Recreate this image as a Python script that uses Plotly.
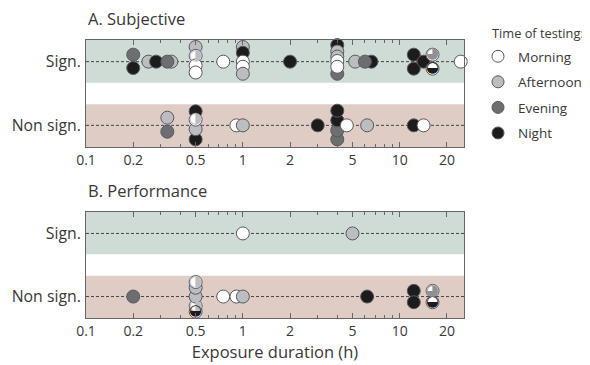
import plotly.graph_objects as go

# ---------------- data ----------------
# time-of-testing codes: W=morning, L=afternoon, D=evening, N=night,
# WL = split morning/afternoon, WN = split morning/night, Q = mixed (quartered)
# dy = vertical jitter (in row units) used to un-stack overlapping studies

a_sig_x    = [0.2, 0.2, 0.25, 0.35, 0.28, 0.33, 0.5, 0.5, 0.5, 0.5, 0.75, 1, 1, 1, 1, 1, 2,
              4, 4, 4, 4, 4, 4, 5.2, 6.6, 6.0, 12.3, 12.3, 14.2, 16.2, 16.2, 24.5]
a_sig_code = ["D", "N", "L", "L", "N", "D", "L", "WL", "W", "W", "W", "L", "N", "W", "W", "L", "N",
              "D", "N", "L", "L", "W", "W", "L", "N", "D", "N", "N", "N", "Q", "WN", "W"]
a_sig_dy   = [0.11, -0.10, 0, 0, 0, 0, 0.23, 0.09, -0.06, -0.17, 0, 0.23, 0.14, 0, -0.08, -0.19, 0,
              -0.19, 0.26, 0.16, 0.08, 0.01, -0.08, 0, 0, 0, 0.11, -0.11, 0, 0.11, -0.11, 0]

a_non_x    = [0.33, 0.33, 0.5, 0.5, 0.5, 0.5, 0.91, 1, 3, 4, 4, 4, 4, 4.6, 6.2, 12.3, 14.2]
a_non_code = ["L", "D", "N", "N", "L", "WL", "W", "L", "N", "D", "D", "N", "N", "W", "L", "N", "W"]
a_non_dy   = [0.12, -0.10, -0.22, 0.22, -0.06, 0.09, 0, 0, 0, -0.22, -0.08, 0.08, 0.23, 0, 0, 0, 0]

b_sig_x    = [1, 5]
b_sig_code = ["W", "L"]
b_sig_dy   = [0, 0]

b_non_x    = [0.2, 0.5, 0.5, 0.5, 0.5, 0.5, 0.75, 0.91, 1, 6.2, 12.3, 12.3, 16.2, 16.2]
b_non_code = ["D", "WN", "WL", "L", "L", "WL", "W", "W", "L", "N", "N", "N", "Q", "WN"]
b_non_dy   = [0, -0.24, -0.15, 0, 0.14, 0.23, 0, 0, 0, 0, 0.09, -0.09, 0.09, -0.09]

row_labels = ["Non sign.", "Sign."]
tick_vals = [0.1, 0.2, 0.5, 1, 2, 5, 10, 20]
tick_text = ["0.1", "0.2", "0.5", "1", "2", "5", "10", "20"]
legend_names = ["Morning", "Afternoon", "Evening", "Night"]

# ---------------- styles ----------------
FILL = {"W": "#ffffff", "L": "#bcbdc0", "D": "#6d6e71", "N": "#1c1c1c",
        "WL": "#ffffff", "WN": "#ffffff", "Q": "#ffffff"}
OVER = {"WL": ("◑", "#bcbdc0"), "WN": ("◒", "#1c1c1c"), "Q": ("◕", "#8f9093")}
EDGE = "#58595b"
GREEN = "#cfdcd5"
PINK = "#dfcdc5"
FONT = "Open Sans"
TXT = "#383838"
MS = 13

fig = go.Figure()

panels = [
    ("x", "y", [(a_non_x, a_non_code, a_non_dy, 0), (a_sig_x, a_sig_code, a_sig_dy, 1)]),
    ("x2", "y2", [(b_non_x, b_non_code, b_non_dy, 0), (b_sig_x, b_sig_code, b_sig_dy, 1)]),
]

for xa, ya, rows in panels:
    for xs, codes, dys, row in rows:
        ys = [row + d for d in dys]
        fig.add_trace(go.Scatter(
            x=xs, y=ys, xaxis=xa, yaxis=ya, mode="markers", showlegend=False,
            hoverinfo="skip", cliponaxis=False,
            marker=dict(size=MS, color=[FILL[c] for c in codes],
                        line=dict(color=EDGE, width=1))))
        for code, (glyph, col) in OVER.items():
            ox = [x for x, c in zip(xs, codes) if c == code]
            oy = [y for y, c in zip(ys, codes) if c == code]
            if ox:
                fig.add_trace(go.Scatter(
                    x=ox, y=oy, xaxis=xa, yaxis=ya, mode="text", text=[glyph] * len(ox),
                    textposition="middle center", showlegend=False, hoverinfo="skip",
                    cliponaxis=False,
                    textfont=dict(family="DejaVu Sans", size=15, color=col)))

# legend entries
for name, code in zip(legend_names, ["W", "L", "D", "N"]):
    fig.add_trace(go.Scatter(
        x=[None], y=[None], mode="markers", name=name, legendgroup=name,
        marker=dict(size=12, color=FILL[code], line=dict(color=EDGE, width=1))))

# bands and dashed lines
for ya, xd in [("y", "x domain"), ("y2", "x2 domain")]:
    fig.add_shape(type="rect", xref=xd, yref=ya, x0=0, x1=1, y0=0.67, y1=1.34,
                  fillcolor=GREEN, line_width=0, layer="below")
    fig.add_shape(type="rect", xref=xd, yref=ya, x0=0, x1=1, y0=-0.34, y1=0.33,
                  fillcolor=PINK, line_width=0, layer="below")
    for r in (0, 1):
        fig.add_shape(type="line", xref=xd, yref=ya, x0=0, x1=1, y0=r, y1=r,
                      line=dict(color="#444444", width=1, dash="3px,2px"), layer="below")

minor_vals = [0.3, 0.4, 0.6, 0.7, 0.8, 0.9, 3, 4, 6, 7, 8, 9]
xcommon = dict(type="log", range=[-1, 1.41], tickvals=tick_vals, ticktext=tick_text,
               ticks="inside", ticklen=5, tickcolor="#666666", showgrid=False,
               showline=True, linecolor="#666666", linewidth=1, mirror="ticks",
               tickfont=dict(family=FONT, size=14, color=TXT), zeroline=False,
               automargin=False,
               minor=dict(tickvals=minor_vals, ticks="inside", ticklen=3,
                          tickcolor="#666666", showgrid=False))
ycommon = dict(range=[-0.34, 1.34], tickvals=[0, 1], ticktext=row_labels, ticks="",
               showgrid=False, zeroline=False, showline=True, linecolor="#666666",
               linewidth=1, mirror=True, automargin=False, ticklabelstandoff=1,
               tickfont=dict(family=FONT, size=15.8, color=TXT))

# the page body adds an 8px margin, so the figure is laid out 8px smaller
OFF = 8
W, H = 590 - OFF, 365 - OFF
L, T = 86 - OFF, 40 - OFF
R = W - (464 - OFF)
B = H - (318 - OFF)
PH = H - T - B
PW = W - L - R


def py(pix):  # reference pixel row -> plot-area fraction
    return (H - B - (pix - OFF)) / PH


def px(pix):  # reference pixel column -> plot-area fraction
    return (pix - OFF - L) / PW


fig.update_layout(
    width=W, height=H, margin=dict(l=L, r=R, t=T, b=B, autoexpand=False),
    plot_bgcolor="white", paper_bgcolor="white",
    font=dict(family=FONT, color=TXT),
    xaxis=dict(domain=[0, 1], anchor="y", **xcommon),
    yaxis=dict(domain=[py(147), 1], anchor="x", **ycommon),
    xaxis2=dict(domain=[0, 1], anchor="y2",
                title=dict(text="Exposure duration (h)", standoff=6,
                           font=dict(family=FONT, size=16.5, color=TXT)), **xcommon),
    yaxis2=dict(domain=[0, py(212)], anchor="x2", **ycommon),
    legend=dict(x=px(478), y=py(41), xanchor="left", yanchor="top",
                font=dict(family=FONT, size=13.5, color=TXT), bgcolor="rgba(0,0,0,0)",
                tracegroupgap=5, itemwidth=30),
    annotations=[
        dict(text="A. Subjective", x=0, y=py(18), xref="paper", yref="paper",
             xanchor="left", yanchor="middle", showarrow=False,
             font=dict(family=FONT, size=16.5, color=TXT)),
        dict(text="B. Performance", x=0, y=py(190), xref="paper", yref="paper",
             xanchor="left", yanchor="middle", showarrow=False,
             font=dict(family=FONT, size=16.5, color=TXT)),
        dict(text="Time of testing:", x=px(490), y=py(33), xref="paper", yref="paper",
             xanchor="left", yanchor="middle", showarrow=False,
             font=dict(family=FONT, size=12.8, color=TXT)),
    ],
)

fig.write_html("out.html")
